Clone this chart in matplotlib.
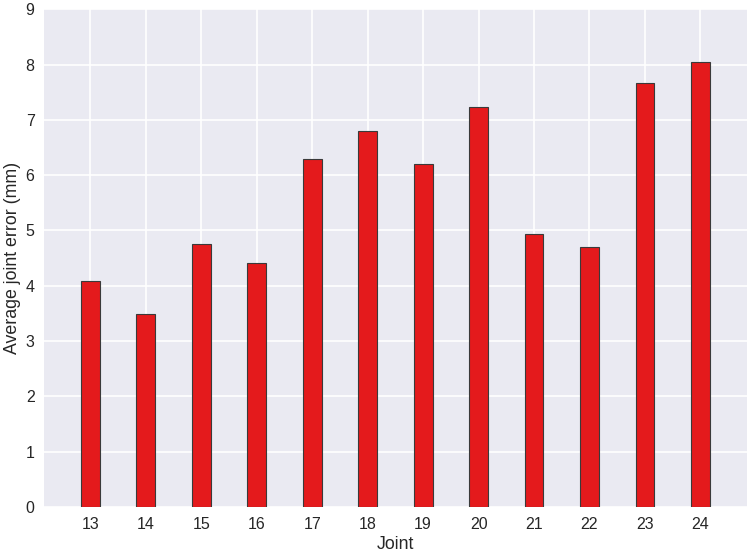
import matplotlib
matplotlib.use("Agg")
import matplotlib.pyplot as plt

joints = [13, 14, 15, 16, 17, 18, 19, 20, 21, 22, 23, 24]
errors = [4.09, 3.49, 4.76, 4.41, 6.29, 6.79, 6.21, 7.24, 4.94, 4.71, 7.66, 8.05]

plt.rcParams['font.family'] = ['Liberation Sans', 'DejaVu Sans']

fig = plt.figure(figsize=(7.47, 5.54), dpi=100)
ax = fig.add_axes([0.0593, 0.0848, 0.9407, 0.8985])
ax.set_facecolor('#eaeaf2')
ax.set_axisbelow(True)
ax.grid(True, color='white', linewidth=1.2)
for s in ax.spines.values():
    s.set_visible(False)

ax.bar(joints, errors, width=0.34, color='#e41a1c', edgecolor='#3a3a3a', linewidth=0.8)

ax.set_xlim(12.17, 24.84)
ax.set_ylim(0, 9)
ax.set_xticks(joints)
ax.set_yticks(range(0, 10))
ax.tick_params(length=0, labelsize=11.5, colors='#262626', pad=7)
ax.set_xlabel('Joint', fontsize=12.8, color='#262626', labelpad=3)
ax.set_ylabel('Average joint error (mm)', fontsize=12.8, color='#262626', labelpad=3)

fig.savefig('out.png', dpi=100)
